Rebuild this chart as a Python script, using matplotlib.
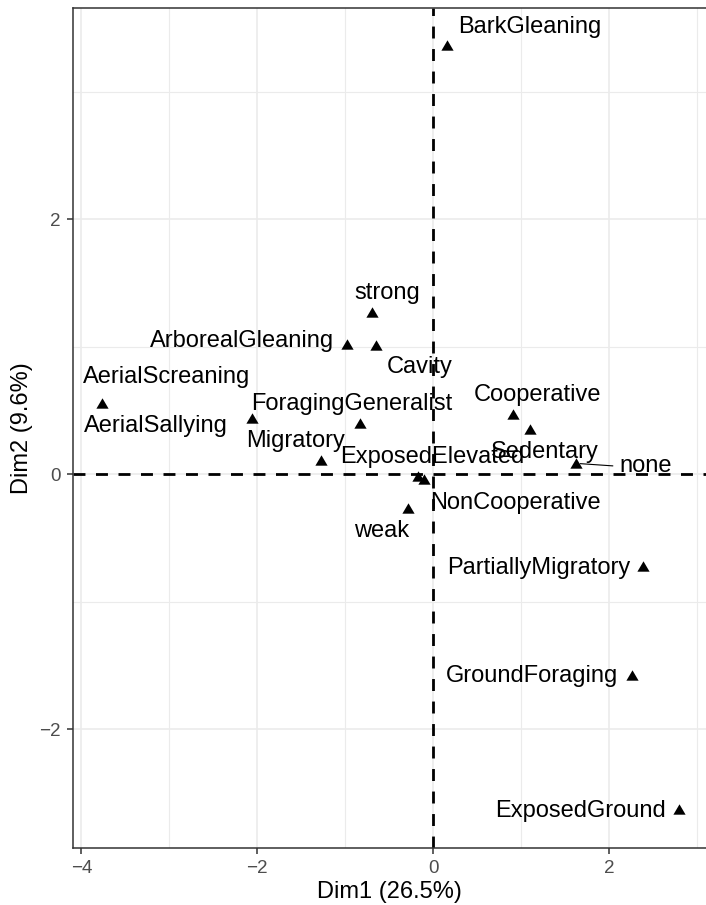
import numpy as np
import matplotlib
matplotlib.use('Agg')
import matplotlib.pyplot as plt
from matplotlib.ticker import MultipleLocator

plt.rcParams['font.family'] = ['Liberation Sans', 'DejaVu Sans']

# MCA category coordinates (Dim1, Dim2)
categories = ['BarkGleaning', 'strong', 'ArborealGleaning', 'Cavity',
              'AerialScreaning', 'AerialSallying', 'ForagingGeneralist',
              'Migratory', 'ExposedElevated', 'NonCooperative', 'weak',
              'Cooperative', 'Sedentary', 'none', 'PartiallyMigratory',
              'GroundForaging', 'ExposedGround']
dim1 = [0.155, -0.693, -0.977, -0.651, -3.768, -2.064, -0.833,
        -1.280, -0.170, -0.102, -0.284, 0.909, 1.099, 1.622, 2.386,
        2.255, 2.795]
dim2 = [3.368, 1.275, 1.022, 1.014, 0.562, 0.439, 0.405,
        0.112, -0.011, -0.037, -0.267, 0.471, 0.355, 0.086, -0.719,
        -1.574, -2.627]

xlab = 'Dim1 (26.5%)'
ylab = 'Dim2 (9.6%)'

# label offsets from each point (pixels), as placed by the repel step
label_dx = [83, 15, -105, 44, 65, -96, -8, -25, 14, 91, -27, 24, 15, 70, -105, -100, -99]
label_dy = [18, 19, 3, -22, 26, -8, 19, 19, 19, -24, -23, 19, -23, -3, -2, -1, -2]
with_segment = ['none']

fig = plt.figure(figsize=(7.06, 9.05), dpi=100)
ax = fig.add_axes([72.7/706, (905-848.3)/905, (707-72.7)/706, (848.3-8.3)/905])

ax.set_xlim(-4.098, 3.11)
ax.set_ylim(-2.933, 3.655)

ax.xaxis.set_major_locator(MultipleLocator(2))
ax.xaxis.set_minor_locator(MultipleLocator(1))
ax.yaxis.set_major_locator(MultipleLocator(2))
ax.yaxis.set_minor_locator(MultipleLocator(1))
ax.grid(which='major', color='#EBEBEB', linewidth=1.2)
ax.grid(which='minor', color='#EBEBEB', linewidth=0.8)
ax.set_axisbelow(True)

for s in ax.spines.values():
    s.set_color('#333333')
    s.set_linewidth(1.1)

ax.tick_params(which='major', length=4.3, width=1.1, color='#333333',
               labelcolor='#4D4D4D', labelsize=13.6, pad=4.4)
ax.tick_params(which='minor', length=0)

dash = (0, (4.3, 3.8))
ax.axhline(0, color='black', linewidth=2.0, linestyle=dash, zorder=2)
ax.axvline(0, color='black', linewidth=2.0, linestyle=dash, zorder=2)

tri = [(-1, -0.85), (1, -0.85), (0, 0.85), (-1, -0.85)]
ax.plot(dim1, dim2, linestyle='none', marker=tri, markersize=8.8,
        color='black', markeredgewidth=0, zorder=3)

for name, x, y, dx, dy in zip(categories, dim1, dim2, label_dx, label_dy):
    if name in with_segment:
        ax.annotate(name, (x, y), xytext=(dx, dy), textcoords='offset pixels',
                    ha='center', va='center', fontsize=17, color='black', zorder=4,
                    arrowprops=dict(arrowstyle='-', color='black', lw=0.8,
                                    relpos=(0, 0.5), shrinkA=3, shrinkB=3))
    else:
        ax.annotate(name, (x, y), xytext=(dx, dy), textcoords='offset pixels',
                    ha='center', va='center', fontsize=17, color='black', zorder=4)

ax.set_xlabel(xlab, fontsize=17)
ax.set_ylabel(ylab, fontsize=17)
ax.xaxis.set_label_coords(0.5, -0.0517)
ax.xaxis.label.set_va('center')
ax.yaxis.set_label_coords(-0.0804, 0.5)
ax.yaxis.label.set_va('center')

plt.savefig('out.png', dpi=100)
